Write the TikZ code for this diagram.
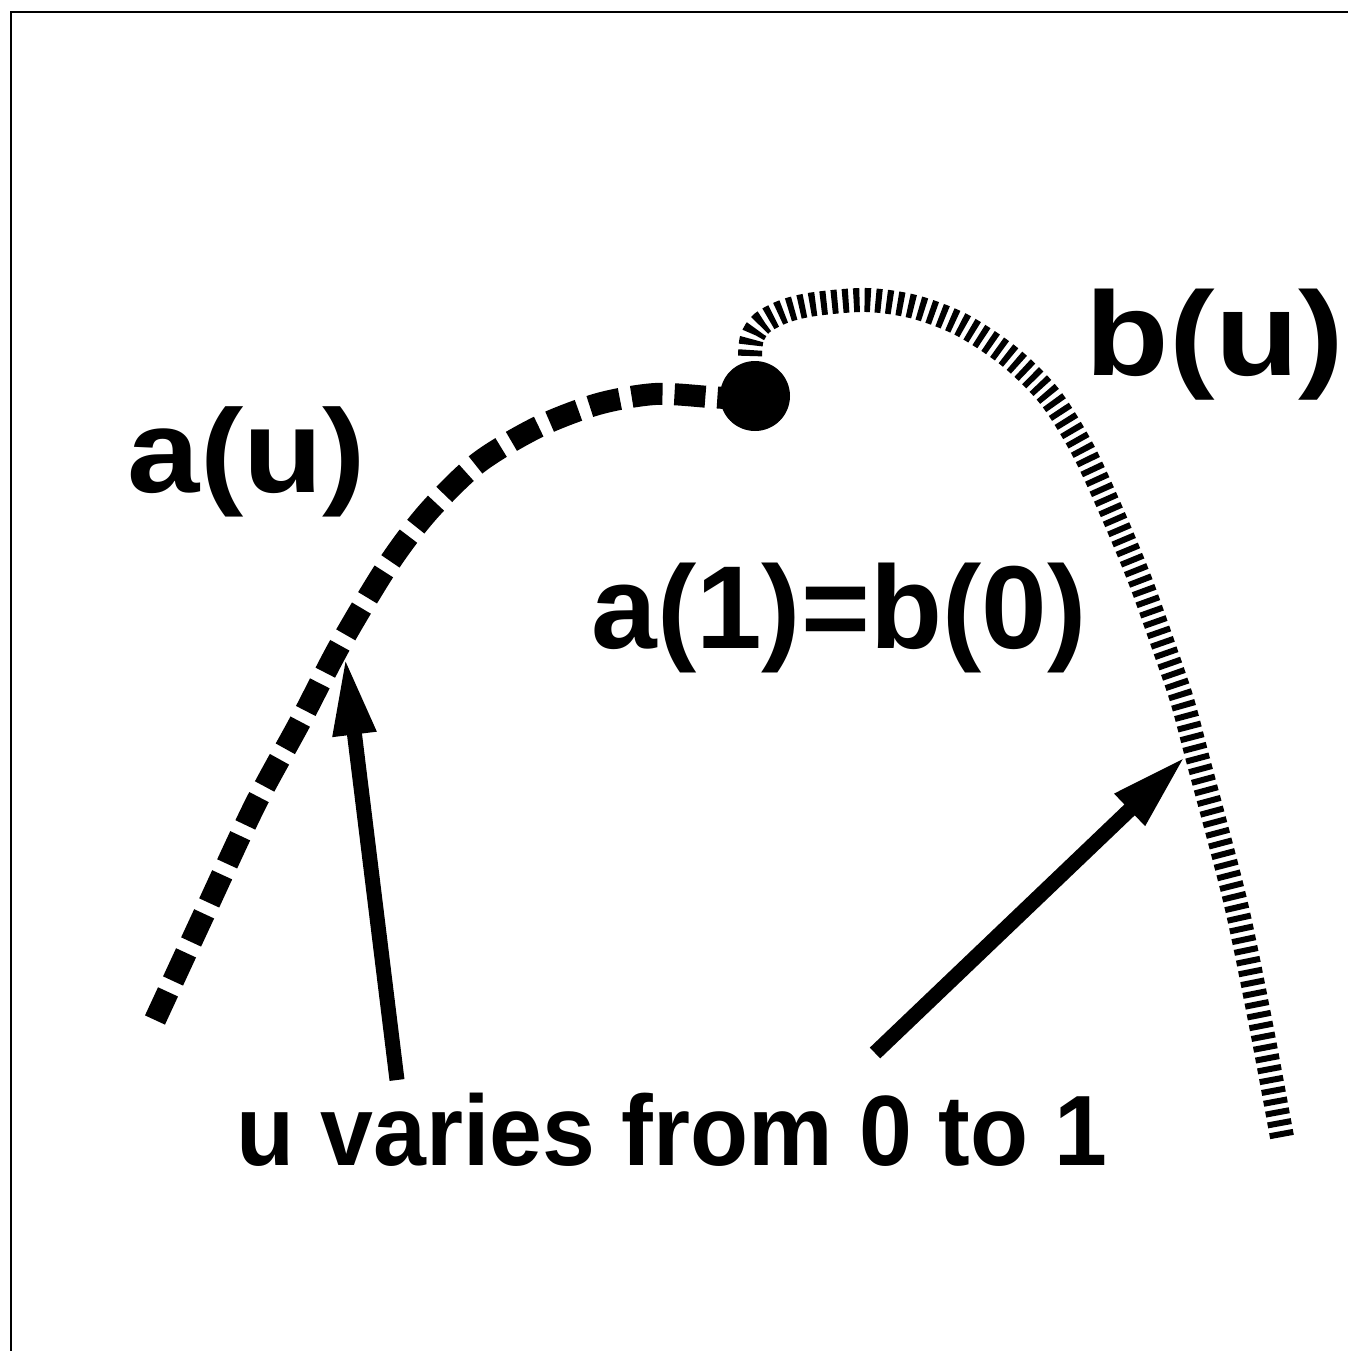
\documentclass[tikz,border=0pt]{standalone}
\usepackage{fontspec}
\usepackage{graphicx}
\setmainfont{Liberation Sans}
\usetikzlibrary{arrows.meta}
\begin{document}
\begin{tikzpicture}[x=0.5pt,y=-0.5pt,
  lbl/.style={inner sep=0pt, anchor=base},
  arr/.style={line width=7.5pt, -{Triangle[length=39pt,width=20pt]}},
  acurve/.style={line width=11pt, dash pattern=on 15.5pt off 6pt},
  bcurve/.style={line width=12pt, dash pattern=on 3pt off 2.5pt},
  frameline/.style={line width=1.4pt}]
\useasboundingbox (0,0) rectangle (1348,1351);
\fill[white] (0,0) rectangle (1348,1351);
\draw[frameline] (11,1351) -- (11,12) -- (1348,12);

% curve a(u)
\draw[acurve] plot[smooth] coordinates {(155,1020) (205,912) (255,805) (300,722) (340,645) (388,565) (428,512) (478,463) (538,427) (598,404) (655,394) (710,397) (752,400)};
% curve b(u)
\draw[bcurve] plot[smooth] coordinates {(750,356) (752,338) (762,323) (785,311) (815,304) (867,300) (915,307) (962,325) (1010,357) (1050,397) (1083,450) (1113,515) (1140,580) (1165,650) (1182,700) (1197,756) (1235,900) (1260,1020) (1282,1137)};

% junction dot
\node[circle, fill=black, minimum size=35pt, inner sep=0pt] (dot) at (755,396) {};

% labels
\node[lbl] (au) at (247,492) {\bfseries\fontsize{57.5}{60}\selectfont\scalebox{1.13}[1.03]{a(u)}};
\node[lbl] (bu) at (1215,375) {\bfseries\fontsize{58.5}{60}\selectfont\scalebox{1.17}[1.02]{b(u)}};
\node[lbl] (ab) at (839,648) {\bfseries\fontsize{59}{60}\selectfont a(1)=b(0)};
\node[lbl] (uv) at (672,1165) {\bfseries\fontsize{49}{52}\selectfont\scalebox{0.97}[1.02]{u varies from 0 to 1}};

% arrows
\coordinate (s1) at (397,1080);
\coordinate (t1) at (345,657);
\coordinate (s2) at (875,1053);
\coordinate (t2) at (1186,756);
\draw[arr] (s1) -- (t1);
\draw[arr] (s2) -- (t2);
\end{tikzpicture}
\end{document}
